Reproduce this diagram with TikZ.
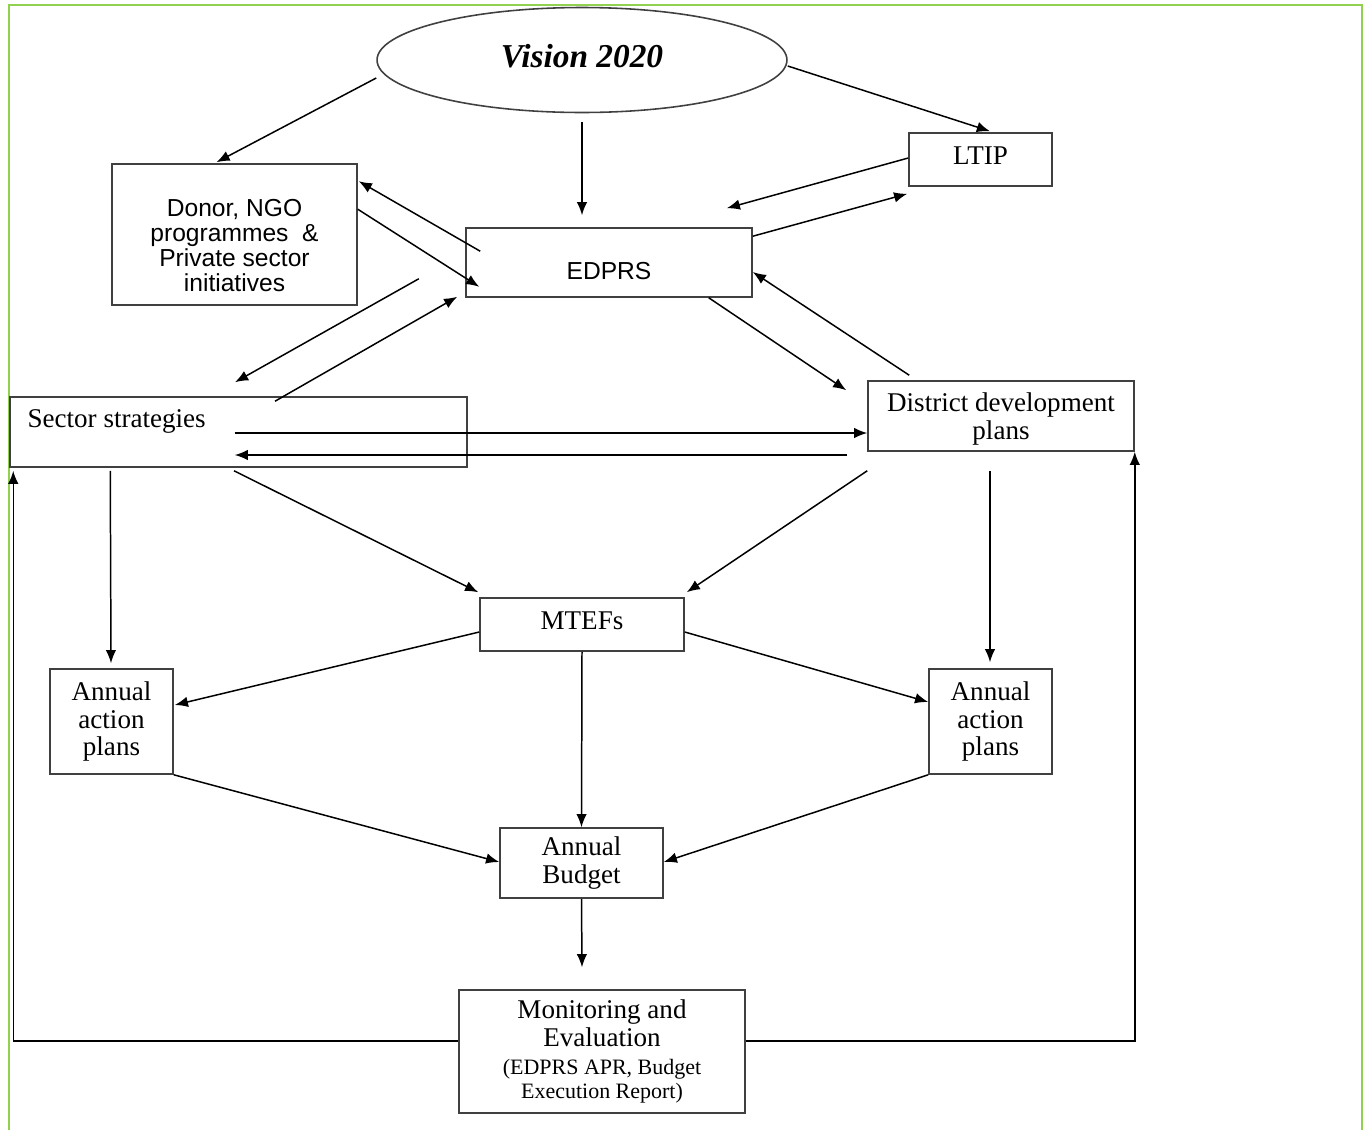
\documentclass[tikz,border=0pt]{standalone}
\usepackage{fontspec}
\setmainfont{Liberation Serif}
\newfontfamily\arialfont{Liberation Sans}
\usetikzlibrary{arrows.meta,shapes,positioning,calc}
\definecolor{framegreen}{RGB}{146,208,80}
\newcommand\smallline{\fontsize{12.5}{13.6}\selectfont}

\begin{document}
\begin{tikzpicture}
[x=0.02cm,y=-0.02cm,
box/.style={draw=black!75,line width=0.9pt,inner sep=0pt,align=center,font=\fontsize{15.4}{15.8}\selectfont},
sansbox/.style={box,font=\arialfont\fontsize{14}{14.2}\selectfont},
link/.style={->,>={Latex[length=7.5pt,width=6pt]},line width=0.85pt},
greenframe/.style={framegreen,line width=1.3pt}]

\useasboundingbox (0,0) rectangle (1369,1130);
\draw[greenframe] (9,1130) -- (9,5) -- (1362,5) -- (1362,1130);

\node (vision) [ellipse,draw=black!75,line width=0.9pt,minimum width=8.2cm,minimum height=2.1cm,text depth=4.5pt,
  font=\fontsize{19}{20}\selectfont\bfseries\itshape] at (582,60) {Vision 2020};
\node (donor) [sansbox,minimum width=4.9cm,minimum height=2.82cm] at (234.5,234.5) {};
\node (donortext) [align=center,inner sep=0pt,font=\arialfont\fontsize{14}{14.2}\selectfont] at ($(donor.center)+(0,11)$)
  {Donor, NGO\\programmes \ \&\\Private sector\\initiatives};
\node (edprs) [sansbox,minimum width=5.72cm,minimum height=1.38cm,text height=19pt,text depth=0pt] at (609,262.5) {EDPRS};
\node (ltip) [box,minimum width=2.86cm,minimum height=1.06cm,text depth=4.5pt] at (980.5,159.5) {LTIP};
\node (sector) [box,minimum width=9.14cm,minimum height=1.4cm] at (238.5,432) {};
\node (sectortext) [anchor=base west,inner sep=0pt,font=\fontsize{15.4}{15.8}\selectfont] at ($(sector.west)+(18,-5)$) {Sector strategies};
\node (district) [box,minimum width=5.32cm,minimum height=1.4cm] at (1001,416) {};
\node (districttext) [align=center,inner sep=0pt,font=\fontsize{15.4}{15.8}\selectfont] at ($(district.center)+(0,3)$)
  {District development\\plans};
\node (mtef) [box,minimum width=4.08cm,minimum height=1.06cm,text depth=4.5pt] at (582,624.5) {MTEFs};
\node (aapl) [box,minimum width=2.46cm,minimum height=2.1cm] at (111.5,721.5) {Annual\\action\\plans};
\node (aapr) [box,minimum width=2.46cm,minimum height=2.1cm] at (990.5,721.5) {Annual\\action\\plans};
\node (budget) [box,minimum width=3.26cm,minimum height=1.4cm] at (581.5,863) {Annual\\Budget};
\node (monitor) [box,minimum width=5.72cm,minimum height=2.46cm] at (602,1051.5)
  {Monitoring and\\Evaluation\\\smallline(EDPRS APR, Budget\\[-2pt]\smallline Execution Report)};

% Vision 2020 down to the plans
\draw[link] ($(vision.west)+(0,18)$) -- ($(donor.north)+(-18,-1)$);
\draw[link,shorten <=5pt] (vision.south) -- ($(edprs.north)+(-27,-12)$);
\draw[link] ($(vision.east)+(0,6)$) -- ($(ltip.north)+(9.5,-1)$);

% EDPRS with LTIP and donors
\draw[link] ($(ltip.west)+(0,-1.5)$) -- ($(edprs.north east)+(-26,-19)$);
\draw[link] ($(edprs.north east)+(0,9)$) -- ($(ltip.south west)+(-1,7)$);
\draw[link] ($(edprs.north west)+(15,24)$) -- ($(donor.north east)+(1,18)$);
\draw[link] ($(donor.north east)+(0,46)$) -- ($(edprs.south west)+(14,-11)$);

% EDPRS with sectors and districts
\draw[link] ($(donor.south east)+(61,-27)$) -- ($(sector.north)+(-3.5,-14)$);
\draw[link] ($(sector.north)+(36.5,5)$) -- ($(edprs.south west)+(-8,-1)$);
\draw[link] ($(edprs.south east)+(-44,0)$) -- ($(district.north west)+(-21,10)$);
\draw[link] ($(district.north west)+(42,-5)$) -- ($(edprs.east)+(0,9.5)$);
\draw[link] ($(sector.east)+(-233,1)$) -- ($(district.west)+(0,17)$);
\draw[link] ($(district.west)+(-20,39)$) -- ($(sector.east)+(-233,23)$);

% down to MTEFs and action plans
\draw[link] ($(sector.south west)+(101,3)$) -- ($(aapl.north)+(-0.5,-5)$);
\draw[link] ($(sector.south)+(-4.5,3)$) -- ($(mtef.north west)+(-1,-5)$);
\draw[link] ($(district.south west)+(0,19)$) -- ($(mtef.north east)+(2,-5)$);
\draw[link] ($(district.south)+(-11,19)$) -- ($(aapr.north)+(-0.5,-6)$);
\draw[link] ($(mtef.west)+(0,7.5)$) -- ($(aapl.east)+(1,-16.5)$);
\draw[link] ($(mtef.east)+(0,7.5)$) -- ($(aapr.west)+(0,-19.5)$);

% budget and M&E
\draw[link] (mtef.south) -- (budget.north);
\draw[link] (aapl.south east) -- ($(budget.west)+(0,-1)$);
\draw[link] (aapr.south west) -- ($(budget.east)+(0,-1)$);
\draw[link] (budget.south) -- ($(monitor.north)+(-20,-22)$);
\draw[link] ($(monitor.west)+(0,-10.5)$) -| ($(sector.south west)+(4,3)$);
\draw[link] ($(monitor.east)+(0,-10.5)$) -| (district.south east);

\end{tikzpicture}
\end{document}
